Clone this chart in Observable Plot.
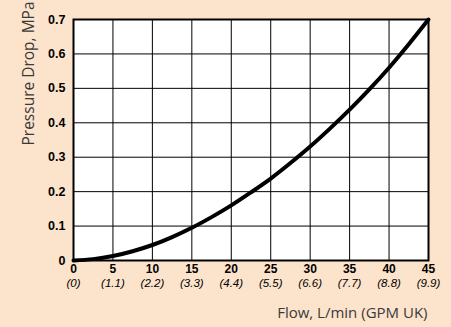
<!DOCTYPE html>
<html><head><meta charset="utf-8">
<script src="https://cdn.jsdelivr.net/npm/d3@7"></script>
<script src="https://cdn.jsdelivr.net/npm/@observablehq/plot@0.6"></script>
<style>
html,body{margin:0;padding:0;background:#fce3cb;}
#chart svg{display:block;}
</style></head><body><div id="chart"></div>
<script>
const flow = [0, 2.5, 5, 7.5, 10, 12.5, 15, 17.5, 20, 22.5, 25, 27.5, 30, 32.5, 35, 37.5, 40, 42.5, 45];
const pressure = [0, 0.004, 0.013, 0.027, 0.045, 0.068, 0.095, 0.126, 0.16, 0.198, 0.238, 0.283, 0.331, 0.383, 0.438, 0.497, 0.56, 0.628, 0.7];
const flowTicks = [0, 5, 10, 15, 20, 25, 30, 35, 40, 45];
const gpmLabels = ["(0)", "(1.1)", "(2.2)", "(3.3)", "(4.4)", "(5.5)", "(6.6)", "(7.7)", "(8.8)", "(9.9)"];
const pressureTicks = [0, 0.1, 0.2, 0.3, 0.4, 0.5, 0.6, 0.7];
const yLabel = "Pressure Drop, MPa";
const xLabel = "Flow, L/min (GPM UK)";

const data = flow.map((f, i) => ({flow: f, p: pressure[i]}));
const font = "Liberation Sans, Arial, sans-serif";

const chart = Plot.plot({
  width: 451, height: 327,
  marginLeft: 73, marginRight: 23, marginTop: 19, marginBottom: 67,
  style: {background: "#fce3cb", fontFamily: font, color: "#000", fontSize: "12px"},
  x: {domain: [0, 45]},
  y: {domain: [0, 0.7]},
  marks: [
    Plot.rectY([0], {x1: 0, x2: 45, y1: 0, y2: 0.7, fill: "white"}),
    Plot.gridX(flowTicks, {stroke: "#000", strokeOpacity: 1, strokeWidth: 1}),
    Plot.gridY(pressureTicks, {stroke: "#000", strokeOpacity: 1, strokeWidth: 1}),
    Plot.axisY(pressureTicks, {tickSize: 0, tickPadding: 8, fontWeight: "bold", fontSize: 12.5, label: null,
      tickFormat: d => d === 0 ? "0" : d3.format(".1f")(d)}),
    Plot.axisX(flowTicks, {tickSize: 0, tickPadding: 4, fontWeight: "bold", fontSize: 12, label: null}),
    Plot.axisX(flowTicks, {tickSize: 0, tickPadding: 18, fontStyle: "italic", fontSize: 11.5, label: null,
      tickFormat: (d, i) => gpmLabels[i]}),
    Plot.line(data, {x: "flow", y: "p", stroke: "black", strokeWidth: 4, curve: "natural"}),
    Plot.frame({stroke: "#000", strokeWidth: 2}),
    Plot.text([yLabel], {frameAnchor: "top-left", dx: -51, dy: 54, rotate: -90, textAnchor: "middle", fontSize: 15.5, fill: "#3a3a3a", fontFamily: "Open Sans, sans-serif"}),
    Plot.text([xLabel], {frameAnchor: "bottom-right", dy: 57, dx: -1, textAnchor: "end", fontSize: 15, fill: "#3a3a3a", fontFamily: "Open Sans, sans-serif"})
  ]
});
document.getElementById("chart").appendChild(chart);
</script></body></html>
